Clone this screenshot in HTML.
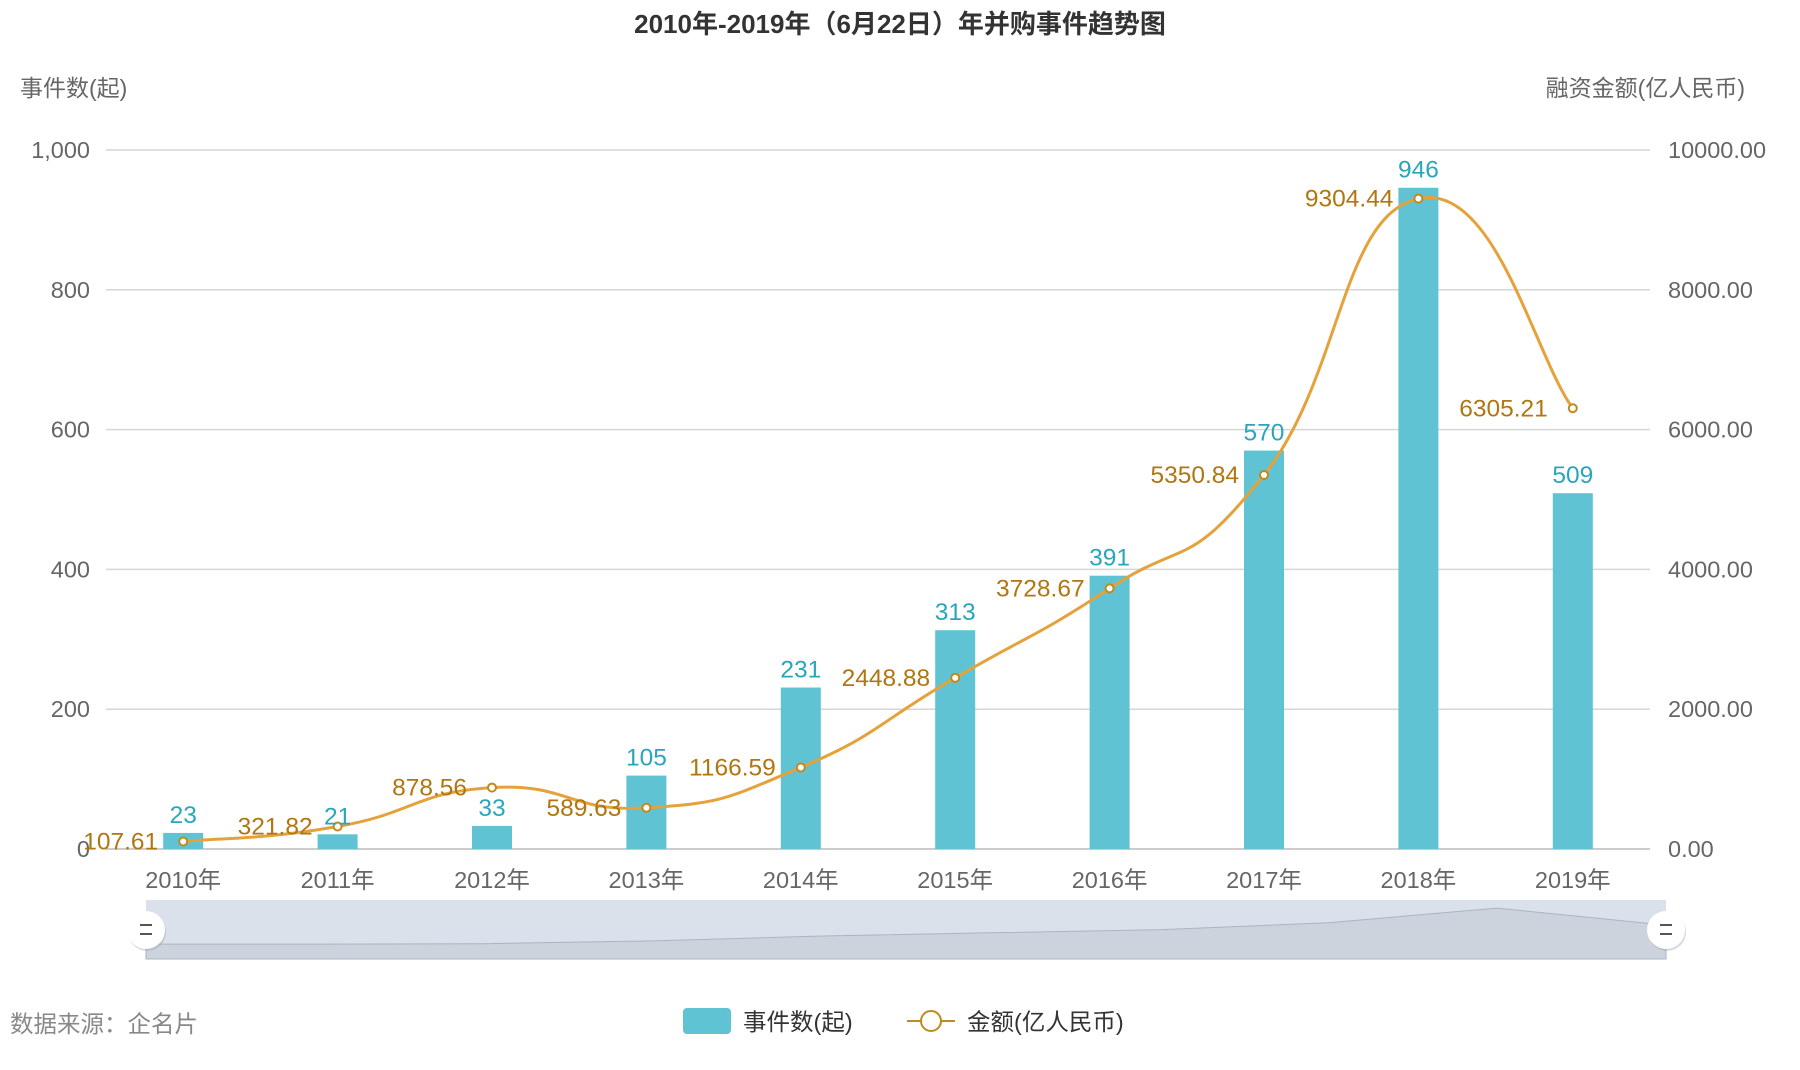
<!DOCTYPE html>
<html><head><meta charset="utf-8">
<style>
html,body{margin:0;padding:0;background:#fff;}
svg{display:block;font-family:"Liberation Sans","Noto Sans CJK SC",sans-serif;}
</style></head>
<body>
<svg id="chart" width="1800" height="1070" viewBox="0 0 1800 1070">
<text x="900" y="33" text-anchor="middle" font-size="26" font-weight="bold" fill="#333">2010年-2019年（6月22日）年并购事件趋势图</text>
<text x="20" y="96" font-size="23" fill="#666">事件数(起)</text>
<text x="1745" y="96" text-anchor="end" font-size="23" fill="#666">融资金额(亿人民币)</text>
<g id="grid"></g>
<g id="bars"></g>
<g id="line"></g>
<g id="labels"></g>
<g id="zoom"></g>
<text x="10" y="1032" font-size="23.5" fill="#888">数据来源：企名片</text>
<g>
<rect x="683" y="1008" width="48" height="26" rx="4" fill="#5fc3d3"/>
<text x="743" y="1030" font-size="23.5" fill="#333">事件数(起)</text>
<line x1="907" y1="1021" x2="955" y2="1021" stroke="#c08a1e" stroke-width="2"/>
<circle cx="931" cy="1021" r="10" fill="#fff" stroke="#c08a1e" stroke-width="2"/>
<text x="967" y="1030" font-size="23.5" fill="#333">金额(亿人民币)</text>
</g>
</svg>
<script>
const categories = ["2010年","2011年","2012年","2013年","2014年","2015年","2016年","2017年","2018年","2019年"];
const counts = [23,21,33,105,231,313,391,570,946,509];
const amounts = [107.61,321.82,878.56,589.63,1166.59,2448.88,3728.67,5350.84,9304.44,6305.21];
const leftTicks = [0,200,400,600,800,1000];
const rightTicks = [0,2000,4000,6000,8000,10000];

const NS="http://www.w3.org/2000/svg";
const L=106,R=1650,T=150,B=849;
const step=(R-L)/categories.length;
const xc=i=>L+step*(i+0.5);
const yL=v=>B-(v/1000)*(B-T);
const yR=v=>B-(v/10000)*(B-T);
function mk(tag,attrs,parent){const e=document.createElementNS(NS,tag);for(const k in attrs)e.setAttribute(k,attrs[k]);parent.appendChild(e);return e;}
const g=document.getElementById('grid'),gb=document.getElementById('bars'),gl=document.getElementById('line'),glab=document.getElementById('labels'),gz=document.getElementById('zoom');

leftTicks.forEach((t,i)=>{
  const y=yL(t);
  const ln=mk('line',{x1:L,x2:R,y1:y,y2:y,stroke:i===0?'#bbb':'#d6d6d6','stroke-width':1.5},g);
  
  
  const tx=mk('text',{x:90,y:y+8,'text-anchor':'end','font-size':23.5,fill:'#666'},g);
  tx.textContent=t===1000?'1,000':String(t);
  
  
});
rightTicks.forEach(t=>{
  const tx=mk('text',{x:1668,y:yR(t)+8,'font-size':23.5,fill:'#666'},g);
  tx.textContent=t.toFixed(2);
  
  
});
categories.forEach((c,i)=>{
  const tx=mk('text',{x:xc(i),y:888,'text-anchor':'middle','font-size':23.5,fill:'#666'},g);
  tx.textContent=c;
  
  
});
const bw=40;
counts.forEach((v,i)=>{
  const r=mk('rect',{x:xc(i)-bw/2,y:yL(v),width:bw,height:B-yL(v),fill:'#5fc3d3'},gb);
  
  
  const t=mk('text',{x:xc(i),y:yL(v)-10,'text-anchor':'middle','font-size':24.5,fill:'#2aa6bb'},glab);
  t.textContent=v;
  
  
});
const pts=amounts.map((v,i)=>[xc(i),yR(v)]);
let d='M'+pts[0][0]+','+pts[0][1];
const k=0.25;
for(let i=0;i<pts.length-1;i++){
  const p0=pts[Math.max(0,i-1)],p1=pts[i],p2=pts[i+1],p3=pts[Math.min(pts.length-1,i+2)];
  const c1=[p1[0]+(p2[0]-p0[0])*k,p1[1]+(p2[1]-p0[1])*k];
  const c2=[p2[0]-(p3[0]-p1[0])*k,p2[1]-(p3[1]-p1[1])*k];
  d+=' C'+c1.join(',')+' '+c2.join(',')+' '+p2.join(',');
}
const path=mk('path',{d:d,fill:'none',stroke:'#e5a23a','stroke-width':3},gl);


pts.forEach((p,i)=>{
  const c=mk('circle',{cx:p[0],cy:p[1],r:4,fill:'#fff',stroke:'#c08a1e','stroke-width':2},gl);
  
  
  const t=mk('text',{x:p[0]-25,y:p[1]+8,'text-anchor':'end','font-size':24.5,fill:'#b07610'},glab);
  t.textContent=amounts[i].toFixed(2);
  
  
});
const ZL=146,ZR=1666,ZT=900,ZB=959;
const bg=mk('rect',{x:ZL,y:ZT,width:ZR-ZL,height:ZB-ZT,fill:'#dbe1ea'},gz);


const zx=i=>ZL+(ZR-ZL)*i/(counts.length-1);
const zy=v=>ZB-14-(v/1000)*(ZB-ZT-20);
let sd='M'+ZL+','+ZB;
counts.forEach((v,i)=>{sd+=' L'+zx(i)+','+zy(v);});
sd+=' L'+ZR+','+ZB+' Z';
const sh=mk('path',{d:sd,fill:'#cdd3dd',stroke:'#aab4c3','stroke-width':1},gz);


[ZL,ZR].forEach((x,j)=>{
  const h=mk('g',{},gz);
  
  
  mk('circle',{cx:x+1,cy:932,r:19,fill:'#999',opacity:0.35},h);
  mk('circle',{cx:x,cy:930,r:19,fill:'#fff'},h);
  mk('line',{x1:x-6,x2:x+6,y1:925,y2:925,stroke:'#555','stroke-width':2},h);
  mk('line',{x1:x-6,x2:x+6,y1:934,y2:934,stroke:'#555','stroke-width':2},h);
});
</script>
</body></html>
